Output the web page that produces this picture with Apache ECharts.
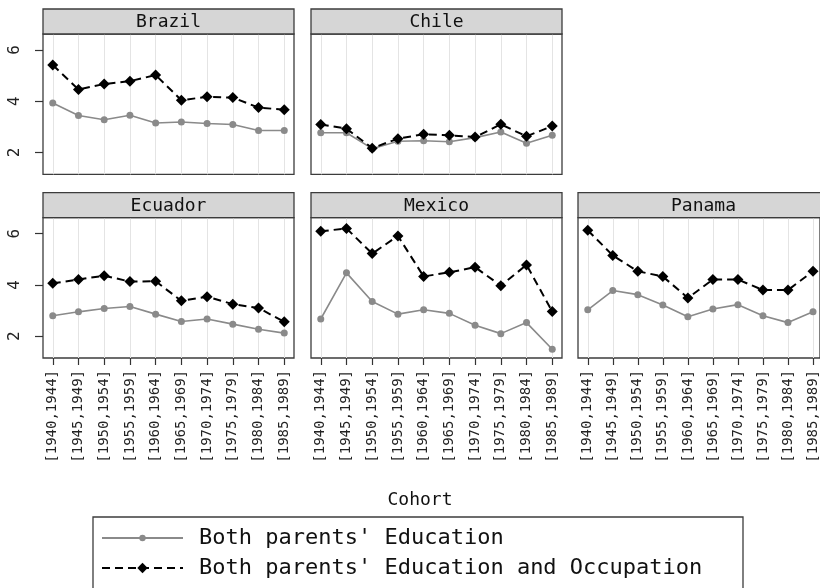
<!DOCTYPE html>
<html>
<head>
<meta charset="utf-8">
<script src="https://cdn.jsdelivr.net/npm/echarts@6/dist/echarts.min.js"></script>
<style>
html,body{margin:0;padding:0;background:#fff;}
#chart{width:820px;height:588px;}
</style>
</head>
<body>
<div id="chart"></div>
<script>
// ---- data ----
const categories = ['[1940,1944]','[1945,1949]','[1950,1954]','[1955,1959]','[1960,1964]',
                    '[1965,1969]','[1970,1974]','[1975,1979]','[1980,1984]','[1985,1989]'];
const yTickValues = [2, 4, 6];
const countries = ['Brazil', 'Chile', 'Ecuador', 'Mexico', 'Panama'];
const seriesNames = ["Both parents' Education", "Both parents' Education and Occupation"];
const xTitle = 'Cohort';

const eduBrazil  = [3.93, 3.44, 3.28, 3.45, 3.15, 3.19, 3.13, 3.09, 2.86, 2.86];
const occBrazil  = [5.41, 4.46, 4.67, 4.78, 5.02, 4.04, 4.17, 4.14, 3.75, 3.67];
const eduChile   = [2.77, 2.77, 2.15, 2.44, 2.46, 2.42, 2.58, 2.80, 2.36, 2.67];
const occChile   = [3.09, 2.93, 2.17, 2.54, 2.71, 2.67, 2.60, 3.10, 2.63, 3.03];
const eduEcuador = [2.80, 2.95, 3.08, 3.16, 2.86, 2.57, 2.67, 2.47, 2.27, 2.12];
const occEcuador = [4.06, 4.21, 4.36, 4.13, 4.14, 3.38, 3.54, 3.25, 3.10, 2.56];
const eduMexico  = [2.67, 4.47, 3.35, 2.86, 3.03, 2.89, 2.43, 2.10, 2.53, 1.49];
const occMexico  = [6.09, 6.20, 5.22, 5.91, 4.33, 4.49, 4.69, 3.97, 4.78, 2.96];
const eduPanama  = [3.03, 3.78, 3.62, 3.22, 2.76, 3.06, 3.23, 2.80, 2.53, 2.95];
const occPanama  = [6.13, 5.15, 4.53, 4.33, 3.49, 4.21, 4.21, 3.80, 3.80, 4.53];

const eduData = [eduBrazil, eduChile, eduEcuador, eduMexico, eduPanama];
const occData = [occBrazil, occChile, occEcuador, occMexico, occPanama];

// ---- layout ----
const FONT = '"DejaVu Sans Mono", monospace';
const colLeft = [43, 311, 578];
const rowPlotTop = [34, 217.7];
const plotH = 140.3;
const panelW = 251;
const inset = 9.75;
const stripH = 25;
const yMin = 1.15, yMax = 6.62;
const panelPos = [[0,0],[0,1],[1,0],[1,1],[1,2]]; // [row, col]

const grid = [], xAxis = [], yAxis = [], series = [], graphics = [];

countries.forEach((name, i) => {
  const [r, c] = panelPos[i];
  const left = colLeft[c], top = rowPlotTop[r];
  const og = 2 * i, ig = 2 * i + 1;
  const bottomRow = (r === 1) || (c === 2);
  const leftCol = c === 0;
  // outer (frame) grid
  grid.push({left: left, top: top, width: panelW, height: plotH, show: true,
             borderColor: '#3c3c3c', borderWidth: 1.3, backgroundColor: '#fff'});
  xAxis.push({gridIndex: og, type: 'value', show: false, min: 0, max: 1});
  yAxis.push({gridIndex: og, type: 'value', min: yMin, max: yMax, show: leftCol,
    axisLine: {show: false},
    axisTick: {show: true, length: 8, customValues: yTickValues, lineStyle: {color: '#333', width: 1.2}},
    axisLabel: {show: true, customValues: yTickValues, rotate: 90, margin: 20,
                fontFamily: FONT, fontSize: 16, color: '#222'},
    splitLine: {show: false}});
  // inner (data) grid
  grid.push({left: left + inset, top: top, width: panelW - 2 * inset, height: plotH, show: false});
  xAxis.push({gridIndex: ig, type: 'category', data: categories, boundaryGap: false,
    axisLine: {show: false},
    axisTick: {show: bottomRow, length: 7, interval: 0, lineStyle: {color: '#333', width: 1.2}},
    axisLabel: {show: bottomRow, interval: 0, rotate: 90, margin: 12,
                fontFamily: FONT, fontSize: 14, color: '#222'},
    splitLine: {show: true, interval: 0, lineStyle: {color: '#e4e4e4', width: 1}}});
  yAxis.push({gridIndex: ig, type: 'value', min: yMin, max: yMax, show: false,
    splitLine: {show: false}});
  // strip header
  graphics.push({type: 'rect', z: 10,
    shape: {x: left, y: top - stripH, width: panelW, height: stripH},
    style: {fill: '#d6d6d6', stroke: '#3c3c3c', lineWidth: 1.3}});
  graphics.push({type: 'text', z: 11,
    style: {text: name, x: left + panelW / 2, y: top - stripH / 2 + 1,
            align: 'center', verticalAlign: 'middle',
            font: '18px ' + FONT, fill: '#111'}});
  // series
  series.push({type: 'line', name: seriesNames[0], xAxisIndex: ig, yAxisIndex: ig,
    data: eduData[i], symbol: 'circle', symbolSize: 7, z: 3,
    itemStyle: {color: '#8a8a8a'}, lineStyle: {color: '#8a8a8a', width: 1.6},
    animation: false});
  series.push({type: 'line', name: seriesNames[1], xAxisIndex: ig, yAxisIndex: ig,
    data: occData[i], symbol: 'diamond', symbolSize: 11, z: 4,
    itemStyle: {color: '#000'}, lineStyle: {color: '#000', width: 2, type: [8, 5]},
    animation: false});
});

graphics.push({type: 'text', style: {text: xTitle, x: 420, y: 500, align: 'center',
  verticalAlign: 'middle', font: '18px ' + FONT, fill: '#111'}});
// legend frame
graphics.push({type: 'rect', z: 0, shape: {x: 93, y: 517, width: 650, height: 72},
  style: {fill: '#fff', stroke: '#3c3c3c', lineWidth: 1.3}});

const legendBase = {
  orient: 'horizontal', left: 101, padding: 0, itemWidth: 81,
  textStyle: {fontFamily: FONT, fontSize: 22, color: '#111', padding: [0, 0, 0, 11]}
};
const legend = [
  Object.assign({}, legendBase, {data: [seriesNames[0]], top: 527, itemHeight: 8}),
  Object.assign({}, legendBase, {data: [seriesNames[1]], top: 557, itemHeight: 13})
];

const chart = echarts.init(document.getElementById('chart'), null, {renderer: 'canvas'});
chart.setOption({
  animation: false,
  backgroundColor: '#fff',
  grid, xAxis, yAxis, series, legend,
  graphic: graphics
});
</script>
</body>
</html>
